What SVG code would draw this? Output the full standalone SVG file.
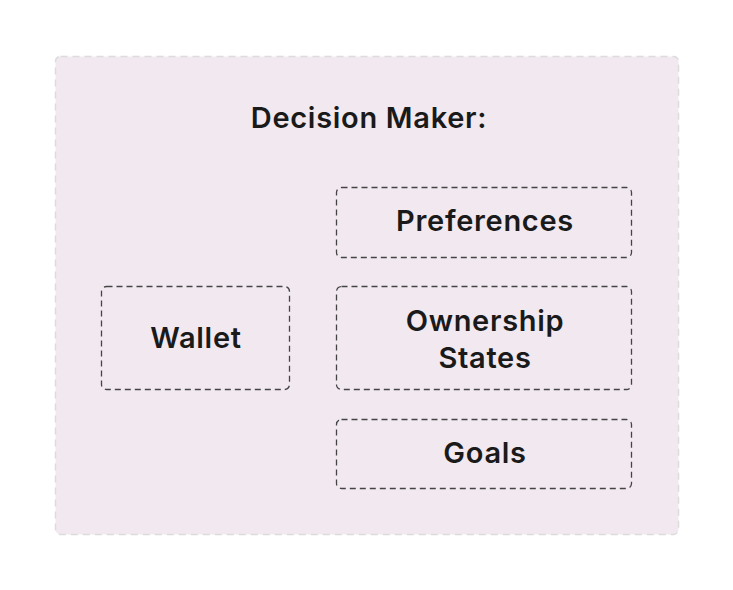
<svg xmlns="http://www.w3.org/2000/svg" width="733" height="590" viewBox="0 0 733 590">
<style>
.t{font-family:Inter,"Liberation Sans",sans-serif;font-weight:600;font-size:29px;letter-spacing:0.7px;fill:#1a1a1a;text-anchor:middle}
.n{fill:none;stroke:#444;stroke-width:1.3;stroke-dasharray:6 4}
</style>
<rect width="733" height="590" fill="#ffffff"/>
<g id="decision-maker">
<rect x="55.5" y="56.5" width="623" height="478" rx="5" fill="#f2e9f0" stroke="#dcdcdc" stroke-width="1.5" stroke-dasharray="7 5"/>
<text class="t" x="369" y="128">Decision Maker:</text>
</g>
<g id="preferences">
<rect class="n" x="336.5" y="187.5" width="295" height="70" rx="5"/>
<text class="t" x="485" y="231">Preferences</text>
</g>
<g id="wallet">
<rect class="n" x="101.5" y="286.5" width="188" height="103" rx="5"/>
<text class="t" x="196" y="348">Wallet</text>
</g>
<g id="ownership-states">
<rect class="n" x="336.5" y="286.5" width="295" height="103" rx="5"/>
<text class="t" x="485" y="331">Ownership</text>
<text class="t" x="485" y="368">States</text>
</g>
<g id="goals">
<rect class="n" x="336.5" y="419.5" width="295" height="69" rx="5"/>
<text class="t" x="485" y="463">Goals</text>
</g>
<g id="connectors"></g>
</svg>
